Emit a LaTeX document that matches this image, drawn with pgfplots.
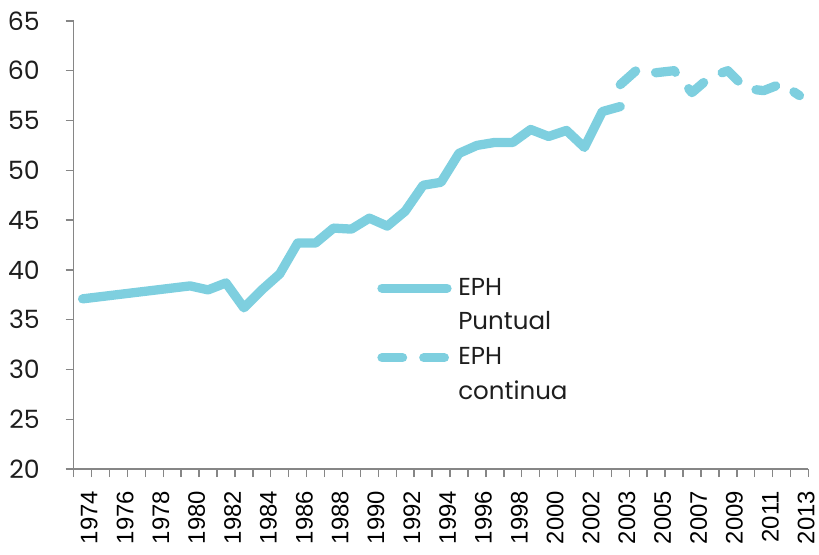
\documentclass[border=0pt]{standalone}
\usepackage{fontspec}
\setmainfont{Poppins}
\newfontfamily\arialfont{Liberation Sans}
\usepackage{pgfplots}
\pgfplotsset{compat=1.18}
\definecolor{lineblue}{RGB}{126,207,223}
\definecolor{axisgray}{RGB}{134,134,134}
\definecolor{textgray}{RGB}{30,30,30}
\begin{document}
\begin{tikzpicture}
\begin{axis}[
  scale only axis, width=554pt, height=338pt,
  xmin=-0.5, xmax=40.5, ymin=20, ymax=65,
  axis x line=bottom, axis y line=left,
  axis line style={-, draw=axisgray, line width=1.1pt},
  tick style={draw=axisgray, line width=1.1pt},
  tick align=outside, major tick length=6pt,
  xtick={-0.5,0.5,...,40.5}, xticklabel=\empty,
  extra x ticks={0,2,...,28,30,32,...,40},
  extra x tick labels={1974,1976,1978,1980,1982,1984,1986,1988,1990,1992,1994,1996,1998,2000,2002,2003,2005,2007,2009,2011,2013},
  extra x tick style={major tick length=0pt, tick label style={rotate=90, anchor=east, font=\arialfont\fontsize{18}{19}\selectfont, xshift=-13pt, yshift=-5pt}},
  ytick={20,25,...,65},
  yticklabel style={font=\fontsize{19}{20}\selectfont, xshift=-16pt, text=textgray},
  /pgf/number format/assume math mode=true,
  legend style={at={(rel axis cs:0.413,0.433)}, anchor=north west, draw=none, fill=none,
    font=\fontsize{18.5}{26}\selectfont, text=textgray, cells={anchor=west, align=left}, row sep=8pt, column sep=3pt, inner sep=0pt},
  legend image code/.code={\draw[#1] (0pt,12.5pt) -- (49pt,12.5pt);},
  clip=false,
]
\addplot[lineblue, line width=7pt, line cap=round, line join=round] coordinates {
 (0,37.1) (6,38.4) (7,38.0) (8,38.7) (9,36.2) (10,38.0) (11,39.6) (12,42.7) (13,42.7)
 (14,44.2) (15,44.1) (16,45.2) (17,44.4) (18,45.9) (19,48.5) (20,48.8) (21,51.7)
 (22,52.5) (23,52.8) (24,52.8) (25,54.1) (26,53.4) (27,54.0) (28,52.3) (29,55.9) (30,56.4)
};
\addlegendentry{EPH\\Puntual}
\addplot[lineblue, line width=7pt, line cap=round, line join=round, dash pattern=on 15.5pt off 16pt] coordinates {
 (30,58.6) (31,60.2) (32,59.8) (33,60.0) (34,57.8) (35,59.35) (36,60.0) (37,58.2)
 (38,58.0) (39,58.7) (40,57.5)
};
\addlegendentry{EPH\\continua}
\end{axis}
\path ([yshift=15.75pt]current axis.north west) -- ([xshift=-55.5pt,yshift=-64pt]current axis.south west);
\end{tikzpicture}
\end{document}
